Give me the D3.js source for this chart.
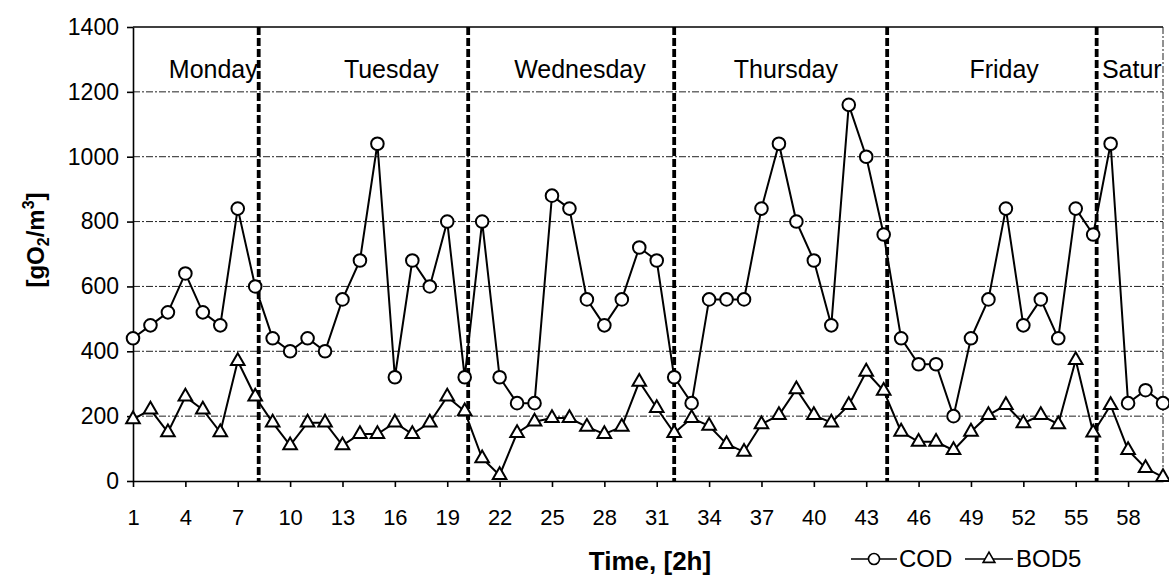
<!DOCTYPE html>
<html>
<head>
<meta charset="utf-8">
<script src="https://cdn.jsdelivr.net/npm/d3@7"></script>
<style>
  body { margin: 0; background: #fff; }
  svg { font-family: "Liberation Sans", Arial, sans-serif; }
  .grid line { stroke: #222; stroke-width: 1; stroke-dasharray: 7,2,2,2; }
  .axis path, .axis line { stroke: #000; stroke-width: 1.6; }
  .axis text { font-size: 22px; fill: #000; }
</style>
</head>
<body>
<svg width="1169" height="581"></svg>
<script>
// Time steps (2h each), 1..60
var steps = d3.range(1, 61);

// COD values [gO2/m3]
var cod = [440, 480, 520, 640, 520, 480, 840, 600, 440, 400,
           440, 400, 560, 680, 1040, 320, 680, 600, 800, 320,
           800, 320, 240, 240, 880, 840, 560, 480, 560, 720,
           680, 320, 240, 560, 560, 560, 840, 1040, 800, 680,
           480, 1160, 1000, 760, 440, 360, 360, 200, 440, 560,
           840, 480, 560, 440, 840, 760, 1040, 240, 280, 240];

// BOD5 values [gO2/m3]
var bod5 = [190, 220, 150, 260, 220, 150, 370, 260, 180, 110,
            180, 180, 110, 145, 145, 180, 145, 180, 260, 215,
            70, 18, 148, 183, 194, 194, 167, 145, 167, 306,
            225, 148, 194, 170, 114, 90, 175, 203, 283, 203,
            180, 234, 337, 278, 152, 121, 121, 95, 152, 203,
            234, 178, 203, 175, 373, 149, 234, 95, 40, 12];

// day boundaries (in time steps) and day names with their label anchors
// (the last one is cut at the chart edge in the original)
var dayBreaks = [8.2, 20.2, 32, 44.2, 56.2];
var days = ["Monday", "Tuesday", "Wednesday", "Thursday", "Friday", "Satur"];
var dayLabelX = [5.6, 15.8, 26.6, 38.4, 50.9, 56.5];

var xTicks = d3.range(1, 59, 3);
var yTicks = [0, 200, 400, 600, 800, 1000, 1200, 1400];

var svg = d3.select("svg"),
    margin = {top: 27, right: 6, bottom: 100, left: 133},
    width = +svg.attr("width") - margin.left - margin.right,
    height = +svg.attr("height") - margin.top - margin.bottom,
    g = svg.append("g").attr("transform", "translate(" + margin.left + "," + margin.top + ")");

var x = d3.scaleLinear().domain([1, 60]).range([0, width]);
var y = d3.scaleLinear().domain([0, 1400]).range([height, 0]);

// horizontal gridlines
g.append("g")
  .attr("class", "grid")
  .selectAll("line")
  .data(yTicks.slice(1, -1))
  .enter().append("line")
  .attr("x1", 0).attr("x2", width)
  .attr("y1", function(d) { return y(d); })
  .attr("y2", function(d) { return y(d); });

// plot border top + right
g.append("line").attr("x1", 0).attr("x2", width).attr("y1", 0).attr("y2", 0)
  .attr("stroke", "#000").attr("stroke-width", 1.4);
g.append("line").attr("x1", width).attr("x2", width).attr("y1", 0).attr("y2", height)
  .attr("stroke", "#222").attr("stroke-width", 1).attr("stroke-dasharray", "7,2,2,2");

// day separators
g.selectAll(".day-line")
  .data(dayBreaks)
  .enter().append("line")
  .attr("class", "day-line")
  .attr("x1", function(d) { return x(d); })
  .attr("x2", function(d) { return x(d); })
  .attr("y1", 0).attr("y2", height)
  .attr("stroke", "#000")
  .attr("stroke-width", 3.8)
  .attr("stroke-dasharray", "8,3");

// day names
g.append("g")
  .selectAll("text")
  .data(days)
  .enter().append("text")
  .attr("x", function(d, i) { return x(dayLabelX[i]); })
  .attr("y", 51)
  .attr("text-anchor", function(d, i) { return i === days.length - 1 ? "start" : "middle"; })
  .style("font-size", "25px")
  .text(function(d) { return d; });

// axes
g.append("g")
  .attr("class", "axis axis--x")
  .attr("transform", "translate(0," + height + ")")
  .call(d3.axisBottom(x).tickValues(xTicks).tickSize(6).tickPadding(22).tickSizeOuter(0).tickFormat(d3.format("d")));

g.append("g")
  .attr("class", "axis axis--y")
  .call(d3.axisLeft(y).tickValues(yTicks).tickSize(6).tickPadding(8).tickSizeOuter(0).tickFormat(d3.format("d")));

g.selectAll(".axis--y text").style("font-size", "23px");

// lines
var line = function(values) {
  return d3.line()
    .x(function(d, i) { return x(steps[i]); })
    .y(function(d) { return y(d); })(values);
};

g.append("path").attr("d", line(cod))
  .attr("fill", "none").attr("stroke", "#000").attr("stroke-width", 2);
g.append("path").attr("d", line(bod5))
  .attr("fill", "none").attr("stroke", "#000").attr("stroke-width", 2);

var tri = d3.symbol().type(d3.symbolTriangle).size(80);

g.selectAll(".cod-pt")
  .data(cod)
  .enter().append("circle")
  .attr("class", "cod-pt")
  .attr("cx", function(d, i) { return x(steps[i]); })
  .attr("cy", function(d) { return y(d); })
  .attr("r", 6.3)
  .attr("fill", "#fff").attr("stroke", "#000").attr("stroke-width", 2);

g.selectAll(".bod-pt")
  .data(bod5)
  .enter().append("path")
  .attr("class", "bod-pt")
  .attr("d", tri)
  .attr("transform", function(d, i) { return "translate(" + x(steps[i]) + "," + y(d) + ")"; })
  .attr("fill", "#fff").attr("stroke", "#000").attr("stroke-width", 2);

// axis titles
svg.append("text")
  .attr("x", 650).attr("y", 570)
  .attr("text-anchor", "middle")
  .style("font-size", "26px").style("font-weight", "bold")
  .text("Time, [2h]");

var yt = svg.append("text")
  .attr("transform", "translate(44,240) rotate(-90)")
  .attr("text-anchor", "middle")
  .style("font-size", "24px").style("font-weight", "bold");
yt.append("tspan").text("[gO");
yt.append("tspan").attr("dy", 5).style("font-size", "16px").text("2");
yt.append("tspan").attr("dy", -5).text("/m");
yt.append("tspan").attr("dy", -10).style("font-size", "16px").text("3");
yt.append("tspan").attr("dy", 10).text("]");

// legend
var legend = svg.append("g").attr("transform", "translate(851,567)");
legend.append("line").attr("x1", 0).attr("x2", 46).attr("y1", -8).attr("y2", -8)
  .attr("stroke", "#000").attr("stroke-width", 1.6);
legend.append("circle").attr("cx", 23).attr("cy", -8).attr("r", 5.5)
  .attr("fill", "#fff").attr("stroke", "#000").attr("stroke-width", 1.6);
legend.append("text").attr("x", 48).attr("y", 0).style("font-size", "24px").text("COD");
legend.append("line").attr("x1", 114).attr("x2", 162).attr("y1", -8).attr("y2", -8)
  .attr("stroke", "#000").attr("stroke-width", 1.6);
legend.append("path").attr("d", d3.symbol().type(d3.symbolTriangle).size(60))
  .attr("transform", "translate(138,-8)")
  .attr("fill", "#fff").attr("stroke", "#000").attr("stroke-width", 1.6);
legend.append("text").attr("x", 165).attr("y", 0).style("font-size", "24px").text("BOD5");
</script>
</body>
</html>
